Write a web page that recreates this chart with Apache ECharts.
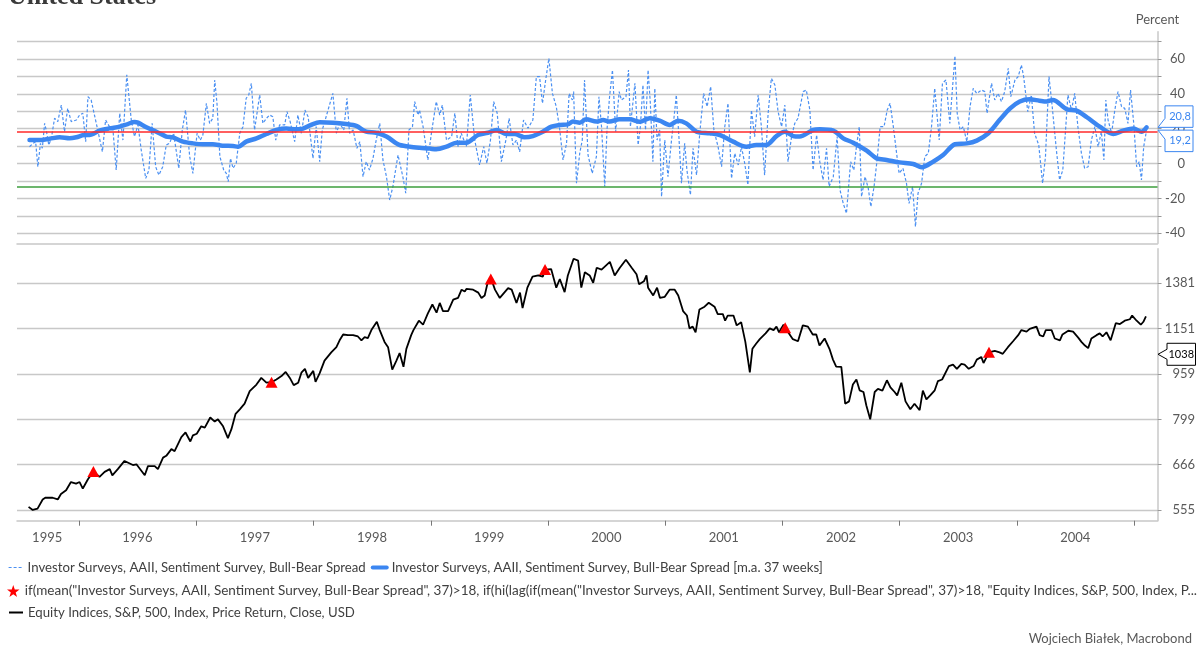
<!DOCTYPE html>
<html><head><meta charset="utf-8">
<script src="https://cdn.jsdelivr.net/npm/echarts@6/dist/echarts.min.js"></script>
<style>html,body{margin:0;padding:0;background:#fff}#c{width:1198px;height:646px}</style>
</head><body><div id="c"></div>
<script>
// ---------- DATA ----------
const titleText = 'United States';
const nameSpread = 'Investor Surveys, AAII, Sentiment Survey, Bull-Bear Spread';
const nameSpreadMA = 'Investor Surveys, AAII, Sentiment Survey, Bull-Bear Spread [m.a. 37 weeks]';
const nameSignal = 'if(mean("Investor Surveys, AAII, Sentiment Survey, Bull-Bear Spread", 37)>18, if(hi(lag(if(mean("Investor Surveys, AAII, Sentiment Survey, Bull-Bear Spread", 37)>18, "Equity Indices, S&P, 500, Index, P...';
const nameSpx = 'Equity Indices, S&P, 500, Index, Price Return, Close, USD';
const sourceText = 'Wojciech Białek, Macrobond';

const timeRange = ['1995-06-22', '2005-03-14'];
const yearTickDates = ['1996-01-01','1997-01-01','1998-01-01','1999-01-01','2000-01-01','2001-01-01','2002-01-01','2003-01-01','2004-01-01','2005-01-01'];
const yearLabelDates = ['1995-09-24','1996-07-01','1997-07-02','1998-07-02','1999-07-02','2000-07-01','2001-07-02','2002-07-02','2003-07-02','2004-07-01'];

const spreadRange = [-45.75, 75.7];
const spreadGridTicks = [-40,-30,-20,-10,0,10,20,30,40,50,60,70];
const spreadLabelTicks = [-40,-20,0,20,40,60];
const thresholdUpper = 18;
const thresholdLower = -13.2;
const spreadCallouts = [20.8, 19.2];

const spxRange = [531.6, 1587];
const spxTicks = [555, 666, 799, 959, 1151, 1381];
const spxCallout = 1038;

const bullBearSpread = [
['1995-07-31',9.7],['1995-08-11',11.6],['1995-08-19',12.6],['1995-08-26',-1.8],['1995-09-03',11.6],['1995-09-09',8.8],['1995-09-16',23.1],['1995-09-21',19.3],['1995-09-29',10.7],['1995-10-07',14.5],['1995-10-17',26.0],['1995-10-27',24.1],['1995-11-07',33.6],['1995-11-17',18.3],['1995-11-27',31.7],['1995-12-08',24.1],['1995-12-24',25.0],
['1996-01-03',27.9],['1996-01-13',28.9],['1996-01-22',12.6],['1996-01-29',38.4],['1996-02-08',36.5],['1996-02-24',23.1],['1996-03-14',6.8],['1996-03-24',25.0],['1996-04-05',21.2],['1996-04-16',19.3],['1996-04-26',-3.7],['1996-05-07',28.9],['1996-05-17',13.5],['1996-05-29',50.9],['1996-06-12',25.0],['1996-06-22',15.5],['1996-07-03',22.2],['1996-07-13',7.8],['1996-07-27',-8.5],['1996-08-06',-3.7],['1996-08-16',23.1],['1996-08-27',-1.8],['1996-09-06',-6.6],['1996-09-18',-1.8],['1996-09-29',10.7],['1996-10-09',11.6],['1996-10-22',17.4],['1996-11-07',-2.7],['1996-11-18',19.3],['1996-11-28',30.7],['1996-12-11',4.0],['1996-12-21',-5.6],
['1997-01-03',17.4],['1997-01-13',13.5],['1997-01-21',16.4],['1997-02-01',34.6],['1997-02-11',23.1],['1997-02-21',26.0],['1997-02-27',48.0],['1997-03-06',34.6],['1997-03-15',4.0],['1997-03-27',-3.7],['1997-04-04',-5.6],['1997-04-10',-10.4],['1997-04-17',3.0],['1997-04-25',-2.7],['1997-05-05',0.2],['1997-05-16',17.4],['1997-05-26',21.2],['1997-06-05',37.5],['1997-06-13',39.4],['1997-06-21',46.1],['1997-07-01',19.3],['1997-07-17',39.4],['1997-07-27',23.1],['1997-08-07',26.0],['1997-08-17',27.9],['1997-08-27',26.9],['1997-09-05',13.5],['1997-09-17',22.2],['1997-10-03',22.2],['1997-10-10',29.8],['1997-10-20',24.1],['1997-11-03',12.6],['1997-11-13',27.9],['1997-11-24',17.4],['1997-12-05',30.7],['1997-12-15',26.9],['1997-12-30',3.0],
['1998-01-09',21.2],['1998-01-20',1.1],['1998-01-28',19.3],['1998-02-09',26.9],['1998-03-02',40.3],['1998-03-13',17.4],['1998-03-23',23.1],['1998-04-05',19.3],['1998-04-15',37.5],['1998-04-23',17.4],['1998-05-04',19.3],['1998-05-16',8.8],['1998-05-25',12.6],['1998-06-04',-7.5],['1998-06-14',1.1],['1998-06-24',-3.7],['1998-07-05',3.0],['1998-07-15',13.5],['1998-07-26',23.1],['1998-08-05',2.1],['1998-08-16',-7.5],['1998-08-26',-20.9],['1998-09-05',-13.2],['1998-09-21',4.9],['1998-09-26',4.0],['1998-10-06',-7.5],['1998-10-15',-17.0],['1998-10-25',19.3],['1998-11-05',21.2],['1998-11-12',35.6],['1998-11-22',27.9],['1998-11-27',30.7],['1998-12-08',21.2],['1998-12-23',2.1],
['1999-01-03',17.4],['1999-01-18',35.6],['1999-01-29',27.9],['1999-02-06',33.6],['1999-02-19',13.5],['1999-03-07',15.5],['1999-03-17',28.9],['1999-03-27',9.7],['1999-04-06',17.4],['1999-04-22',9.7],['1999-05-04',39.4],['1999-05-18',13.5],['1999-06-02',-0.8],['1999-06-15',9.7],['1999-06-25',0.2],['1999-07-06',13.5],['1999-07-16',35.6],['1999-07-27',28.9],['1999-08-09',1.1],['1999-08-23',13.5],['1999-09-02',26.0],['1999-09-14',10.7],['1999-09-25',13.5],['1999-10-05',6.8],['1999-10-17',25.0],['1999-10-31',20.3],['1999-11-15',25.0],['1999-11-26',49.9],['1999-12-06',49.9],['1999-12-15',34.6],['1999-12-25',48.0],
['2000-01-04',60.4],['2000-01-15',40.3],['2000-01-27',32.7],['2000-02-07',19.3],['2000-02-17',2.1],['2000-02-28',11.6],['2000-03-07',40.3],['2000-03-17',36.5],['2000-03-21',41.3],['2000-03-30',-11.3],['2000-04-09',5.9],['2000-04-17',13.5],['2000-04-24',48.0],['2000-05-05',4.9],['2000-05-18',-5.6],['2000-05-31',4.0],['2000-06-08',38.4],['2000-06-16',21.2],['2000-06-26',-13.2],['2000-07-03',19.3],['2000-07-11',38.4],['2000-07-20',53.7],['2000-07-30',18.3],['2000-08-10',41.3],['2000-08-17',36.5],['2000-08-31',38.4],['2000-09-08',53.7],['2000-09-14',21.2],['2000-09-28',46.1],['2000-10-08',10.7],['2000-10-15',21.2],['2000-10-23',45.1],['2000-10-31',19.3],['2000-11-08',53.7],['2000-11-15',34.6],['2000-11-23',1.1],['2000-11-29',43.2],['2000-12-06',13.5],['2000-12-14',19.3],['2000-12-20',-19.0],['2000-12-30',13.5],
['2001-01-09',-7.5],['2001-01-20',13.5],['2001-01-27',25.0],['2001-02-04',39.4],['2001-02-12',15.5],['2001-02-20',-11.3],['2001-03-02',11.6],['2001-03-09',-3.7],['2001-03-20',-18.0],['2001-03-28',8.8],['2001-04-08',-6.6],['2001-04-18',17.4],['2001-04-30',40.3],['2001-05-11',32.7],['2001-05-22',44.2],['2001-06-01',19.3],['2001-06-14',9.7],['2001-06-25',-1.8],['2001-07-05',21.2],['2001-07-15',34.6],['2001-07-26',-8.5],['2001-08-05',5.9],['2001-08-16',-0.8],['2001-08-26',9.7],['2001-09-05',0.2],['2001-09-15',-12.2],['2001-09-26',30.7],['2001-10-06',15.5],['2001-10-17',39.4],['2001-10-27',21.2],['2001-11-06',-6.6],['2001-11-17',28.9],['2001-11-27',48.9],['2001-12-08',45.1],['2001-12-18',29.8],['2001-12-29',21.2],
['2002-01-08',33.6],['2002-01-18',1.1],['2002-01-29',15.5],['2002-02-08',23.1],['2002-02-18',26.0],['2002-03-06',41.3],['2002-03-16',42.2],['2002-03-27',30.7],['2002-04-06',-3.7],['2002-04-17',16.4],['2002-04-27',1.1],['2002-05-07',-9.4],['2002-05-18',8.8],['2002-05-26',-13.2],['2002-06-08',-7.5],['2002-06-20',15.5],['2002-06-29',-15.2],['2002-07-09',-22.9],['2002-07-19',-28.6],['2002-08-01',1.1],['2002-08-11',-3.7],['2002-08-19',9.7],['2002-08-28',21.2],['2002-09-04',-19.0],['2002-09-15',-7.5],['2002-09-25',-14.2],['2002-10-03',-24.7],['2002-10-13',-13.2],['2002-10-23',3.0],['2002-11-01',21.2],['2002-11-13',21.2],['2002-11-23',30.7],['2002-12-02',34.6],['2002-12-12',21.2],['2002-12-30',-5.6],
['2003-01-11',-2.7],['2003-01-22',-11.3],['2003-01-30',-22.9],['2003-02-10',-13.2],['2003-02-19',-36.2],['2003-02-27',-17.0],['2003-03-10',-11.3],['2003-03-20',4.0],['2003-03-31',5.9],['2003-04-10',21.2],['2003-04-20',43.2],['2003-05-04',13.5],['2003-05-14',46.1],['2003-05-25',48.0],['2003-06-06',23.1],['2003-06-22',61.8],['2003-06-29',28.9],['2003-07-08',19.3],['2003-07-18',21.2],['2003-07-29',12.6],['2003-08-08',32.7],['2003-08-18',43.2],['2003-08-29',40.3],['2003-09-13',42.2],['2003-09-23',41.3],['2003-09-30',28.9],['2003-10-14',46.1],['2003-10-24',36.5],['2003-11-03',40.3],['2003-11-14',35.6],['2003-11-24',41.3],['2003-12-05',54.7],['2003-12-13',38.4],['2003-12-26',48.0],
['2004-01-05',49.9],['2004-01-15',56.6],['2004-01-22',49.9],['2004-02-04',29.8],['2004-02-15',39.4],['2004-02-25',17.4],['2004-03-09',10.7],['2004-03-21',-11.3],['2004-03-30',4.0],['2004-04-10',49.9],['2004-04-20',32.7],['2004-05-03',7.8],['2004-05-13',-9.4],['2004-05-23',-3.7],['2004-06-08',39.4],['2004-06-19',30.7],['2004-06-29',40.3],['2004-07-09',21.2],['2004-07-20',5.9],['2004-07-30',-2.7],['2004-08-10',-1.8],['2004-08-20',13.5],['2004-08-31',21.2],['2004-09-10',9.7],['2004-09-20',18.3],['2004-09-28',2.1],['2004-10-04',36.5],['2004-10-11',25.0],['2004-10-22',17.4],['2004-11-01',30.7],['2004-11-11',41.3],['2004-11-22',32.7],['2004-12-02',31.7],['2004-12-12',23.1],['2004-12-20',42.2],['2004-12-30',23.1],
['2005-01-08',-1.8],['2005-01-16',1.1],['2005-01-23',-9.4],['2005-01-30',9.7],['2005-02-08',19.2]
];

const bullBearMA37 = [
['1995-07-31',13.5],['1995-08-31',13.5],['1995-10-02',14.3],['1995-11-02',15.1],['1995-12-03',14.5],['1995-12-24',15.1],
['1996-01-18',16.4],['1996-02-03',16.4],['1996-03-05',18.9],['1996-04-05',20.2],['1996-05-07',21.2],['1996-06-01',22.7],['1996-06-22',23.9],['1996-07-03',23.5],['1996-07-29',20.8],['1996-08-29',18.3],['1996-09-29',15.5],['1996-10-19',15.1],['1996-11-20',12.6],['1996-12-21',11.6],
['1997-01-21',11.1],['1997-02-21',11.1],['1997-03-23',10.3],['1997-04-25',10.1],['1997-05-10',9.7],['1997-06-05',12.6],['1997-07-07',14.5],['1997-08-07',17.0],['1997-09-07',19.3],['1997-10-08',20.1],['1997-11-08',19.7],['1997-11-29',20.1],['1997-12-30',22.7],
['1998-01-20',23.7],['1998-03-02',23.5],['1998-04-12',22.7],['1998-05-14',21.6],['1998-06-14',18.3],['1998-07-15',17.7],['1998-08-16',15.5],['1998-09-16',11.6],['1998-09-26',10.7],['1998-10-28',9.7],['1998-11-27',9.1],['1998-12-29',8.6],
['1999-01-18',8.2],['1999-02-19',9.7],['1999-03-22',12.0],['1999-04-22',12.0],['1999-05-28',16.4],['1999-06-28',17.7],['1999-07-25',19.3],['1999-08-25',17.0],['1999-09-19',17.0],['1999-10-20',15.1],['1999-11-15',15.8],['1999-12-16',18.3],
['2000-01-12',21.2],['2000-02-07',22.2],['2000-03-03',22.5],['2000-03-19',24.1],['2000-04-09',23.5],['2000-04-29',25.4],['2000-05-31',24.1],['2000-06-21',25.0],['2000-07-11',24.1],['2000-08-11',25.4],['2000-09-12',25.4],['2000-10-13',24.0],['2000-11-13',26.0],['2000-12-14',24.6],
['2001-01-14',22.2],['2001-02-09',24.6],['2001-03-07',23.1],['2001-04-08',18.3],['2001-05-19',17.4],['2001-06-20',16.4],['2001-07-31',12.6],['2001-09-10',9.7],['2001-10-11',10.7],['2001-11-11',10.7],['2001-12-13',15.8],
['2002-01-08',18.3],['2002-02-03',15.8],['2002-02-23',15.5],['2002-04-06',19.3],['2002-04-27',19.7],['2002-06-08',18.9],['2002-07-09',14.5],['2002-08-09',12.0],['2002-09-20',7.4],['2002-10-21',3.0],['2002-11-21',2.1],
['2003-01-01',0.7],['2003-02-12',-0.2],['2003-03-10',-2.1],['2003-04-15',1.1],['2003-05-16',4.9],['2003-06-22',11.1],['2003-07-29',11.6],['2003-08-29',13.2],['2003-10-04',17.4],['2003-11-08',25.0],['2003-12-11',31.7],
['2004-01-10',35.6],['2004-02-09',36.9],['2004-03-11',36.1],['2004-04-02',35.6],['2004-04-22',36.5],['2004-06-04',31.2],['2004-07-05',30.4],['2004-08-06',26.6],['2004-09-15',21.2],['2004-10-27',17.0],['2004-11-27',18.9],['2004-12-29',20.2],
['2005-01-23',18.3],['2005-02-08',20.8]
];

const spx500 = [
['1995-07-28',562],['1995-08-10',555],['1995-08-25',558],['1995-09-10',579],['1995-09-18',583],['1995-10-11',583],['1995-10-27',579],['1995-11-06',592],['1995-11-22',601],['1995-12-07',621],['1995-12-23',617],
['1996-01-03',621],['1996-01-13',605],['1996-01-29',628],['1996-02-15',648],['1996-03-05',634],['1996-03-21',647],['1996-04-06',654],['1996-04-14',638],['1996-05-01',654],['1996-05-22',676],['1996-06-17',665],['1996-06-28',667],['1996-07-24',638],['1996-08-03',662],['1996-08-24',662],['1996-09-03',654],['1996-09-19',685],['1996-09-29',690],['1996-10-15',709],['1996-10-25',703],['1996-11-15',744],['1996-11-28',758],['1996-12-13',731],['1996-12-21',749],
['1997-01-02',754],['1997-01-16',777],['1997-01-27',773],['1997-02-13',805],['1997-02-27',792],['1997-03-09',799],['1997-03-25',777],['1997-04-09',741],['1997-04-20',768],['1997-05-03',817],['1997-05-16',832],['1997-05-31',851],['1997-06-16',895],['1997-06-21',902],['1997-07-07',919],['1997-07-22',944],['1997-08-07',926],['1997-08-23',928],['1997-09-07',938],['1997-09-23',951],['1997-10-06',967],['1997-10-19',944],['1997-10-31',917],['1997-11-14',926],['1997-11-24',964],['1997-12-05',979],['1997-12-15',944],['1997-12-31',971],
['1998-01-07',929],['1998-01-20',962],['1998-02-04',1012],['1998-02-25',1046],['1998-03-13',1068],['1998-03-23',1098],['1998-04-03',1124],['1998-04-18',1121],['1998-05-04',1121],['1998-05-19',1115],['1998-05-30',1098],['1998-06-09',1112],['1998-06-19',1108],['1998-06-30',1144],['1998-07-17',1183],['1998-07-26',1144],['1998-08-10',1091],['1998-08-21',1068],['1998-09-03',976],['1998-09-16',1012],['1998-09-26',1043],['1998-10-08',987],['1998-10-17',1061],['1998-11-01',1121],['1998-11-08',1144],['1998-11-25',1188],['1998-12-08',1169],['1998-12-23',1224],
['1999-01-06',1268],['1999-01-19',1227],['1999-01-29',1276],['1999-02-08',1235],['1999-02-24',1235],['1999-03-12',1293],['1999-03-27',1302],['1999-04-07',1346],['1999-04-17',1336],['1999-04-22',1350],['1999-05-13',1346],['1999-05-29',1330],['1999-06-08',1302],['1999-06-18',1315],['1999-06-28',1390],['1999-07-07',1412],['1999-07-20',1346],['1999-08-04',1302],['1999-08-30',1354],['1999-09-10',1346],['1999-09-25',1276],['1999-10-06',1330],['1999-10-14',1250],['1999-10-29',1357],['1999-11-14',1418],['1999-12-02',1425],['1999-12-16',1418],['1999-12-23',1459],
['2000-01-11',1462],['2000-01-27',1357],['2000-02-07',1405],['2000-02-22',1333],['2000-03-03',1425],['2000-03-21',1524],['2000-04-04',1513],['2000-04-14',1357],['2000-04-25',1444],['2000-05-10',1425],['2000-05-21',1384],['2000-06-01',1470],['2000-06-16',1459],['2000-07-12',1505],['2000-07-27',1425],['2000-08-12',1470],['2000-08-31',1518],['2000-09-18',1470],['2000-10-03',1432],['2000-10-11',1376],['2000-10-26',1392],['2000-11-03',1425],['2000-11-08',1357],['2000-11-24',1315],['2000-12-06',1357],['2000-12-15',1302],['2000-12-30',1308],
['2001-01-14',1346],['2001-01-30',1346],['2001-02-10',1315],['2001-02-25',1235],['2001-03-09',1213],['2001-03-17',1152],['2001-03-27',1160],['2001-04-05',1134],['2001-04-17',1243],['2001-05-03',1257],['2001-05-16',1277],['2001-06-03',1257],['2001-06-13',1220],['2001-06-29',1220],['2001-07-06',1188],['2001-07-14',1213],['2001-08-01',1213],['2001-08-11',1166],['2001-08-25',1181],['2001-09-07',1091],['2001-09-21',965],['2001-09-29',1061],['2001-10-11',1084],['2001-10-22',1103],['2001-11-09',1129],['2001-11-22',1152],['2001-12-04',1144],['2001-12-13',1160],['2001-12-21',1134],
['2002-01-04',1169],['2002-01-11',1150],['2002-02-02',1103],['2002-02-18',1094],['2002-03-05',1166],['2002-03-21',1160],['2002-04-05',1124],['2002-04-16',1124],['2002-04-26',1075],['2002-05-12',1106],['2002-05-27',1061],['2002-06-07',1016],['2002-06-17',988],['2002-07-03',987],['2002-07-15',851],['2002-07-27',859],['2002-08-08',919],['2002-08-19',938],['2002-08-29',898],['2002-09-10',892],['2002-09-19',845],['2002-10-01',799],['2002-10-15',892],['2002-10-25',903],['2002-11-08',897],['2002-11-22',935],['2002-12-03',909],['2002-12-16',892],['2002-12-24',880],
['2003-01-06',926],['2003-01-19',859],['2003-02-03',832],['2003-02-16',851],['2003-03-04',829],['2003-03-14',897],['2003-03-25',866],['2003-04-06',880],['2003-04-20',898],['2003-04-30',932],['2003-05-13',938],['2003-06-03',990],['2003-06-16',996],['2003-06-28',979],['2003-07-12',999],['2003-07-22',996],['2003-08-04',979],['2003-08-19',990],['2003-08-29',1016],['2003-09-12',1027],['2003-09-19',1002],['2003-10-06',1046],['2003-10-24',1052],['2003-11-08',1046],['2003-11-18',1040],['2003-12-04',1068],['2003-12-20',1094],
['2004-01-05',1121],['2004-01-15',1144],['2004-01-31',1137],['2004-02-10',1150],['2004-03-02',1160],['2004-03-12',1121],['2004-03-23',1115],['2004-03-31',1144],['2004-04-18',1144],['2004-04-28',1106],['2004-05-14',1098],['2004-05-22',1124],['2004-06-09',1141],['2004-06-24',1137],['2004-07-10',1110],['2004-07-20',1091],['2004-07-31',1075],['2004-08-10',1064],['2004-08-20',1106],['2004-09-05',1121],['2004-09-15',1129],['2004-09-24',1115],['2004-10-06',1134],['2004-10-19',1098],['2004-11-04',1176],['2004-11-17',1172],['2004-12-02',1188],['2004-12-18',1195],['2004-12-25',1213],
['2005-01-08',1188],['2005-01-21',1169],['2005-01-29',1183],['2005-02-06',1209]
];

const signalPoints = [['1996-02-15',648],['1997-08-23',928],['1999-07-07',1405],['1999-12-23',1459],['2002-01-09',1155],['2003-10-06',1046]];

// ---------- STYLE ----------
const FONT = 'Lato, "Noto Sans", sans-serif';
const GRID_COLOR = '#c8c8c8';
const LABEL_COLOR = '#595959';
const BLUE = '#3b86f1';
const BLUE_LIGHT = '#4b90f2';
const STAR = 'path://M50,2 L62,38 L99,38 L69,60 L80,96 L50,74 L20,96 L31,60 L1,38 L38,38 Z';

const ln = Math.log;
const t = s => Date.parse(s);               // ISO date -> UTC timestamp
const pts = (arr, f) => arr.map(d => [t(d[0]), f ? f(d[1]) : d[1]]);

function spreadCalloutRender(params, api) {
  const cs = params.coordSys;
  const v = api.value(1);
  const y = api.coord([api.value(0), v])[1];
  const tip = cs.x + cs.width + 0.5;
  const L = tip + 7, R = tip + 35, h = 21.5;
  const up = params.dataIndex === 0;
  const p = up ? [[tip,y],[R,y],[R,y-h],[L,y-h],[L,y-9]] : [[tip,y],[R,y],[R,y+h],[L,y+h],[L,y+9]];
  const cy = up ? y - h/2 : y + h/2;
  return {type:'group', children:[
    {type:'polygon', shape:{points:p}, style:{fill:'#fff', stroke:BLUE, lineWidth:1}},
    {type:'text', style:{text:v.toFixed(1).replace('.', ','), x:(L+R)/2 + 1, y:cy, align:'center', verticalAlign:'middle', fill:BLUE, font:'11px ' + FONT}}
  ]};
}
function spxCalloutRender(params, api) {
  const cs = params.coordSys;
  const v = api.value(1);
  const y = api.coord([api.value(0), v])[1];
  const tip = cs.x + cs.width + 0.5;
  const L = tip + 9, R = tip + 37.5, h = 11;
  const p = [[tip,y],[L,y-5],[L,y-h],[R,y-h],[R,y+h],[L,y+h],[L,y+5]];
  return {type:'group', children:[
    {type:'polygon', shape:{points:p}, style:{fill:'#fff', stroke:'#000', lineWidth:1}},
    {type:'text', style:{text:String(Math.round(Math.exp(v))), x:(L+R)/2, y:y, align:'center', verticalAlign:'middle', fill:'#000', font:'11px ' + FONT}}
  ]};
}

const labelStyle = {color: LABEL_COLOR, fontFamily: FONT, fontSize: 13};
const legendText = {color: '#404040', fontFamily: FONT, fontSize: 13.2};

const xCommon = {type: 'value', min: t(timeRange[0]), max: t(timeRange[1]), splitLine: {show: false}};

const option = {
  animation: false,
  backgroundColor: '#fff',
  title: {text: titleText, left: 8, top: -16, padding: 0,
    textStyle: {fontFamily: '"Liberation Serif", "DejaVu Serif", serif', fontSize: 26, fontWeight: 'bold', color: '#3a3a3a'}},
  grid: [
    {left: 17, right: 40.5, top: 31.7, height: 211.6, outerBoundsMode: 'none'},
    {left: 17, right: 40.5, top: 248.7, height: 272, outerBoundsMode: 'none'}
  ],
  xAxis: [
    Object.assign({gridIndex: 0,
      axisLine: {show: true, onZero: false, lineStyle: {color: GRID_COLOR, width: 1.5}},
      axisTick: {show: false}, axisLabel: {show: false}}, xCommon),
    Object.assign({gridIndex: 1,
      axisLine: {show: true, onZero: false, lineStyle: {color: GRID_COLOR, width: 1.5}},
      axisTick: {show: true, customValues: yearTickDates.map(t), length: 5, lineStyle: {color: '#777'}},
      axisLabel: Object.assign({customValues: yearLabelDates.map(t), margin: 11, hideOverlap: false,
        formatter: v => String(new Date(v).getUTCFullYear())}, labelStyle)}, xCommon)
  ],
  yAxis: [
    {type: 'value', gridIndex: 0, position: 'right', min: spreadRange[0], max: spreadRange[1],
      name: 'Percent', nameLocation: 'end', nameGap: 5,
      nameTextStyle: {color: LABEL_COLOR, fontFamily: FONT, fontSize: 13, align: 'center', verticalAlign: 'bottom'},
      axisLine: {show: true, onZero: false, lineStyle: {color: GRID_COLOR, width: 1.5}},
      axisTick: {show: true, customValues: spreadGridTicks, length: 4, lineStyle: {color: '#999'}},
      axisLabel: Object.assign({customValues: spreadLabelTicks, align: 'right', margin: 27.5}, labelStyle),
      splitLine: {show: true, lineStyle: {color: GRID_COLOR, width: 1.3}}},
    {type: 'value', gridIndex: 1, position: 'right', min: ln(spxRange[0]), max: ln(spxRange[1]),
      axisLine: {show: true, onZero: false, lineStyle: {color: GRID_COLOR, width: 1.5}},
      axisTick: {show: true, customValues: spxTicks.map(ln), length: 4, lineStyle: {color: '#999'}},
      axisLabel: Object.assign({customValues: spxTicks.map(ln), align: 'right', margin: 37.5,
        formatter: v => String(Math.round(Math.exp(v)))}, labelStyle),
      splitLine: {show: true, lineStyle: {color: GRID_COLOR, width: 1.3}}}
  ],
  legend: [
    {data: [{name: nameSpread, lineStyle: {width: 1.2}}, {name: nameSpreadMA, lineStyle: {width: 4}}],
      left: 8, top: 561, padding: 0, itemWidth: 14, itemHeight: 14, itemGap: 5,
      itemStyle: {opacity: 0}, selectedMode: false, textStyle: legendText},
    {data: [{name: nameSignal, icon: STAR}], left: 7, top: 584, padding: 0, itemWidth: 13, itemHeight: 12,
      selectedMode: false, textStyle: Object.assign({}, legendText, {fontSize: 13.5})},
    {data: [{name: nameSpx, lineStyle: {width: 2}}], left: 8, top: 606, padding: 0, itemWidth: 14, itemHeight: 14,
      itemStyle: {opacity: 0}, selectedMode: false, textStyle: legendText}
  ],
  graphic: [
    {type: 'text', right: 6, top: 632, style: {text: sourceText, font: '13px ' + FONT, fill: LABEL_COLOR}}
  ],
  series: [
    {name: nameSpread, type: 'line', xAxisIndex: 0, yAxisIndex: 0, data: pts(bullBearSpread),
      symbol: 'none', z: 2, itemStyle: {color: BLUE_LIGHT},
      lineStyle: {color: BLUE_LIGHT, width: 1.2, type: [3, 2]},
      markLine: {silent: true, symbol: 'none', label: {show: false},
        data: [
          {yAxis: thresholdUpper, lineStyle: {color: '#ff2a2a', width: 1.5, type: 'solid'}},
          {yAxis: thresholdLower, lineStyle: {color: '#3c9e3c', width: 1.5, type: 'solid'}}
        ]}},
    {name: nameSpreadMA, type: 'line', xAxisIndex: 0, yAxisIndex: 0, data: pts(bullBearMA37),
      symbol: 'none', z: 4, smooth: 0.3, itemStyle: {color: BLUE},
      lineStyle: {color: BLUE, width: 4.5, cap: 'round', join: 'round'}},
    {type: 'custom', xAxisIndex: 0, yAxisIndex: 0, clip: false, z: 6, silent: true,
      data: spreadCallouts.map(v => [t(timeRange[1]), v]), renderItem: spreadCalloutRender},
    {name: nameSpx, type: 'line', xAxisIndex: 1, yAxisIndex: 1, data: pts(spx500, ln),
      symbol: 'none', z: 3, itemStyle: {color: '#000'}, lineStyle: {color: '#000', width: 1.8}},
    {name: nameSignal, type: 'scatter', xAxisIndex: 1, yAxisIndex: 1, data: pts(signalPoints, ln),
      symbol: 'triangle', symbolSize: [12, 11], z: 5, itemStyle: {color: '#ff0000', opacity: 1}},
    {type: 'custom', xAxisIndex: 1, yAxisIndex: 1, clip: false, z: 6, silent: true,
      data: [[t(timeRange[1]), ln(spxCallout)]], renderItem: spxCalloutRender}
  ]
};

const chart = echarts.init(document.getElementById('c'), null, {renderer: 'canvas'});
chart.setOption(option);
</script>
</body></html>
